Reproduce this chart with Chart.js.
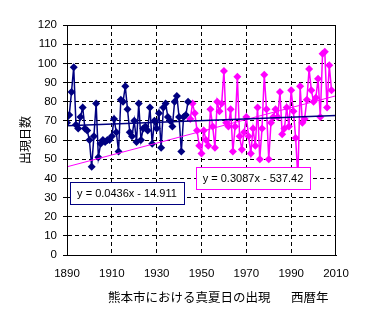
<!DOCTYPE html>
<html>
<head>
<meta charset="utf-8">
<script src="https://cdn.jsdelivr.net/npm/chart.js@4/dist/chart.umd.min.js"></script>
<style>
  html, body { margin: 0; padding: 0; background: #fff; }
</style>
</head>
<body>
<canvas id="chart" width="372" height="324"></canvas>
<script>
// 熊本市 真夏日の出現日数
const earlyStart = 1890;
const earlyDays = [69, 73, 85, 98, 68, 66, 72, 77, 66, 65,
                   60, 46, 62, 79, 51, 58, 60, 59, 60, 60,
                   62, 71, 64, 54, 81, 80, 88, 76, 64, 62,
                   70, 59, 79, 60, 66, 67, 65, 77, 58, 70,
                   66, 74, 56, 77, 79, 72, 70, 67, 80, 83,
                   72, 54, 72, 73, 80];
const lateStart = 1945;
const lateDays = [71, 79, 74, 65, 57, 53, 65, 60, 57, 76,
                  67, 56, 80, 75, 79, 96, 69, 67, 76, 54,
                  67, 93, 62, 55, 64, 72, 62, 53, 66, 57,
                  77, 50, 66, 94, 76, 50, 69, 72, 76, 72,
                  85, 63, 66, 77, 67, 86, 75, 61, 40, 88,
                  69, 71, 81, 97, 86, 80, 82, 92, 72, 105,
                  106, 77, 99, 86];
const earlyFit = [0.0436, -14.911];
const lateFit = [0.3087, -537.42];
const yearTicks = [1890, 2010, 20];
const dayTicks = [0, 120, 10];

const navy = '#000080';
const magenta = '#FF00FF';

function toPoints(start, vals) {
    return vals.map((v, i) => ({ x: start + i, y: v }));
}
function fitLine(fit) {
    return [yearTicks[0], yearTicks[1]].map(x => ({ x: x, y: fit[0] * x + fit[1] }));
}
function fitLabel(fit) {
    return 'y = ' + fit[0] + 'x - ' + Math.abs(fit[1]);
}

// grid lines on the frame edges stay hidden, the frame is drawn solid
function gridColor(min, max) {
    return c => (c.tick && (c.tick.value === min || c.tick.value === max)) ? 'rgba(0,0,0,0)' : '#000';
}

const extras = {
    id: 'extras',
    afterDraw(chart) {
        const ctx = chart.ctx;
        const a = chart.chartArea;
        ctx.save();
        ctx.strokeStyle = '#000';
        ctx.lineWidth = 1;
        ctx.strokeRect(Math.round(a.left) + 0.5, Math.round(a.top) + 0.5,
                       Math.round(a.right - a.left) - 1, Math.round(a.bottom - a.top));

        const box = (text, x, y, w, h, color) => {
            ctx.fillStyle = '#fff';
            ctx.fillRect(x, y, w, h);
            ctx.strokeStyle = color;
            ctx.strokeRect(x + 0.5, y + 0.5, w, h);
            ctx.fillStyle = '#000';
            ctx.font = '11px "Liberation Sans", Arial, sans-serif';
            ctx.textAlign = 'center';
            ctx.textBaseline = 'middle';
            ctx.fillText(text, x + w / 2, y + h / 2 + 1);
        };
        box(fitLabel(earlyFit), 70, 182, 114, 22, navy);
        box(fitLabel(lateFit), 196, 167, 114, 22, magenta);

        ctx.fillStyle = '#000';
        ctx.font = '12.5px "Noto Sans CJK JP", sans-serif';
        ctx.textAlign = 'left';
        ctx.textBaseline = 'middle';
        ctx.fillText('熊本市における真夏日の出現', 108, 297);
        ctx.fillText('西暦年', 291, 297);
        ctx.restore();
    }
};

new Chart(document.getElementById('chart'), {
    type: 'line',
    data: {
        datasets: [{
            data: fitLine(earlyFit),
            borderColor: navy,
            borderWidth: 1.5,
            pointRadius: 0
        }, {
            data: fitLine(lateFit),
            borderColor: magenta,
            borderWidth: 1,
            pointRadius: 0
        }, {
            data: toPoints(earlyStart, earlyDays),
            borderColor: navy,
            backgroundColor: navy,
            borderWidth: 1.5,
            pointStyle: 'rectRot',
            pointRadius: 4,
            pointBorderWidth: 0
        }, {
            data: toPoints(lateStart, lateDays),
            borderColor: magenta,
            backgroundColor: magenta,
            borderWidth: 1.5,
            pointStyle: 'rectRot',
            pointRadius: 4,
            pointBorderWidth: 0
        }]
    },
    options: {
        responsive: false,
        animation: false,
        devicePixelRatio: 1,
        layout: { padding: { top: 25, right: 36, left: 0, bottom: 0 } },
        plugins: { legend: { display: false }, tooltip: { enabled: false } },
        scales: {
            x: {
                type: 'linear',
                min: yearTicks[0],
                max: yearTicks[1],
                ticks: {
                    stepSize: yearTicks[2],
                    color: '#000',
                    padding: 12,
                    maxRotation: 0,
                    callback: v => String(v),
                    font: { family: '"Liberation Sans", Arial, sans-serif', size: 11.5 }
                },
                grid: { color: gridColor(yearTicks[0], yearTicks[1]), drawTicks: false },
                border: { display: true, color: '#000', dash: [4, 3] },
                afterFit: s => { s.height = 69; }
            },
            y: {
                min: dayTicks[0],
                max: dayTicks[1],
                ticks: {
                    stepSize: dayTicks[2],
                    color: '#000',
                    padding: 6,
                    font: { family: '"Liberation Sans", Arial, sans-serif', size: 11.5 }
                },
                grid: { color: gridColor(dayTicks[0], dayTicks[1]), tickLength: 4, tickColor: '#000' },
                border: { display: true, color: '#000', dash: [4, 3] },
                title: {
                    display: true,
                    text: '出現日数',
                    color: '#000',
                    font: { family: '"Noto Sans CJK JP", sans-serif', size: 12 },
                    padding: { top: 18, bottom: 0 }
                },
                afterFit: s => { s.width = 67; }
            }
        }
    },
    plugins: [extras]
});
</script>
</body>
</html>
